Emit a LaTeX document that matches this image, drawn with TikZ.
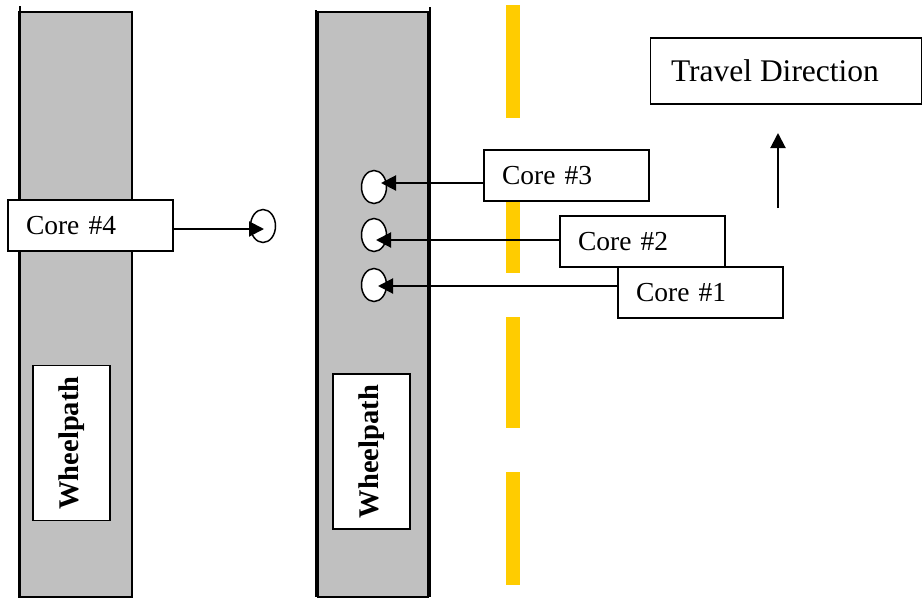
\documentclass[tikz,border=0pt]{standalone}
\usepackage{fontspec}
\setmainfont{Liberation Serif}
\usetikzlibrary{arrows.meta,shapes.geometric}
\definecolor{road}{HTML}{C0C0C0}
\definecolor{lane}{HTML}{FFCC00}
\begin{document}
\begin{tikzpicture}[x=1pt,y=-1pt,
  strip/.style={fill=road,draw=black,line width=1.4pt},
  edge/.style={draw=black,line width=1.4pt},
  corebox/.style={draw=black,fill=white,line width=1.5pt,minimum width=165pt,minimum height=51pt,inner sep=0pt,font=\fontsize{27.5}{30}\selectfont,text width=165pt-36pt,align=left},
  wheelbox/.style={draw=black,fill=white,line width=1.5pt,minimum width=77pt,minimum height=155pt,inner sep=0pt},
  wheeltext/.style={rotate=90,font=\fontsize{28.5}{30}\selectfont\bfseries},
  hole/.style={draw=black,fill=white,line width=1.5pt,ellipse,minimum width=25pt,minimum height=33pt,inner sep=0pt},
  lanedash/.style={fill=lane,draw=none},
  conn/.style={draw=black,line width=2pt,-{Triangle[length=15pt,width=15pt]}}
]
\useasboundingbox (0,0) rectangle (922,598);
\fill[white] (0,0) rectangle (922,598);
% strips
\draw[strip] (19,12) rectangle (132,597);
\draw[edge] (20,6) -- (20,597);
\draw[strip] (318,12) rectangle (428,597);
\draw[edge] (316,10) -- (316,597);
\draw[edge] (430,7) -- (430,597);
% lane dashes
\fill[lanedash] (506,5) rectangle (520,118);
\fill[lanedash] (506,160) rectangle (520,273);
\fill[lanedash] (506,317) rectangle (520,428);
\fill[lanedash] (506,472) rectangle (520,585);
% wheelpath boxes
\node[wheelbox] (w1) at (71.5,443) {};
\node[wheeltext] (w1t) at (w1.center) {Wheelpath};
\node[wheelbox] (w2) at (371.5,451.5) {};
\node[wheeltext] (w2t) at (w2.center) {Wheelpath};
% holes
\node[hole] (h4) at (263,226) {};
\node[hole] (h3) at (374,187) {};
\node[hole] (h2) at (374,235) {};
\node[hole] (h1) at (374,285) {};
% core boxes
\node[corebox] (c4) at (90.5,225.5) {Core \#4};
\node[corebox] (c3) at (566.5,175.5) {Core \#3};
\node[corebox] (c2) at (642.5,241.5) {Core \#2};
\node[corebox] (c1) at (700.5,292.5) {Core \#1};
% travel direction
\node[draw=black,fill=white,line width=1.5pt,minimum width=271pt,minimum height=66pt,inner sep=0pt,font=\fontsize{31.5}{34}\selectfont] (td) at (786,71) {Travel Direction\hspace*{22pt}};
\coordinate (ab) at (778,208);
\coordinate (at) at (778,133);
\draw[conn] (ab) -- (at);
% connectors
\draw[conn] (c4.east |- 0,229) -- ([xshift=1pt]h4.center |- 0,229);
\draw[conn] (c3.west |- 0,183) -- ([xshift=7pt]h3.center |- 0,183);
\draw[conn] (c2.west |- 0,240) -- ([xshift=2pt]h2.center |- 0,240);
\draw[conn] (c1.west |- 0,286) -- ([xshift=4pt]h1.center |- 0,286);
\end{tikzpicture}
\end{document}
